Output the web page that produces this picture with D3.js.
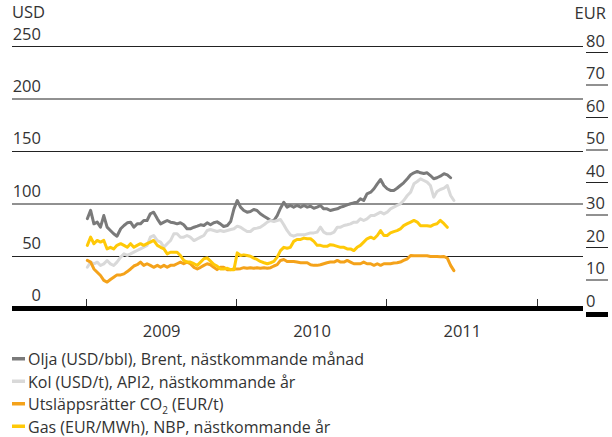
<!DOCTYPE html>
<html>
<head>
<meta charset="utf-8">
<script src="https://cdn.jsdelivr.net/npm/d3@7"></script>
<style>
  html, body { margin: 0; padding: 0; background: #fff; }
  svg { display: block; }
  text { font-family: "Open Sans", "Noto Sans", sans-serif; fill: #333; }
</style>
</head>
<body>
<script>
// ---- DATA ----
const startDate = "2009-01-01";
// days since startDate for each observation
const dayOffsets = [2,10,18,26,34,42,50,58,66,74,83,91,99,107,115,123,131,139,147,155,163,172,180,188,196,204,212,220,228,236,244,252,261,269,277,285,293,301,309,317,325,333,342,350,358,366,374,382,390,398,406,414,422,431,439,447,455,463,471,479,487,495,503,511,520,528,536,544,552,560,568,576,584,592,601,609,617,625,633,641,649,657,665,673,681,690,698,706,714,722,730,738,746,754,762,770,779,787,795,803,811,819,827,835,843,851,859,868,876,884,892];

// Olja (USD/bbl)
const oil = [86,94,81.1,82.7,77.9,89,78,74.8,71.6,69.3,
  76.4,79.5,82.1,82.7,77.9,81.1,81.1,84.3,84.3,90.7,
  92.2,85.9,81.1,82.7,84.3,82.7,82.1,81.1,82.1,80.2,
  76.4,76.4,77.9,78.9,80.2,79.5,82.1,80.2,82.1,83.0,
  81.1,78.6,79.5,83.3,95.4,103.3,97.0,93.8,92.2,92.9,
  94.8,93.8,90.7,88.4,86.5,84.3,84.3,89.0,96.0,101.7,
  97.0,98.6,97.0,98.6,97.0,98.6,97.0,97.9,96.0,97.0,
  98.6,95.4,95.4,93.8,94.8,95.4,97.0,97.9,99.2,100.2,
  101.1,101.7,105.0,103.3,109.7,111.2,114.5,119.2,123.3,117.6,
  114.5,112.9,112.9,115.0,117.6,120.2,124.0,127.8,129.7,131.0,
  129.7,129.0,129.7,127.1,124.0,125.0,126.5,128.8,127.8,125.0];

// Kol (USD/t)
const coal = [39.8,44.6,43.0,44.6,41.4,43.0,46.2,43.0,41.4,44.6,
  49.4,52.5,51.0,52.5,54.1,55.7,57.3,58.9,60.5,68.4,
  70.0,65.2,63.7,58.9,62.1,65.2,71.6,71.6,68.4,68.4,
  70.0,68.4,65.2,66.8,68.4,70.0,74.8,75.7,74.8,73.8,
  74.8,73.8,74.8,75.7,76.4,78.9,77.9,75.7,73.8,73.8,
  76.4,77.0,77.9,80.2,82.7,84.3,83.3,84.3,85.2,80.2,
  74.8,70.6,69.4,70.6,70.6,70.6,71.6,72.5,72.5,73.2,
  77.9,73.2,71.6,71.6,73.2,77.9,77.9,79.5,80.2,81.1,
  82.7,82.7,85.9,84.3,85.9,89.0,89.0,90.6,92.2,90.6,
  92.2,95.4,97.0,98.6,100.2,103.3,108.1,111.3,119.2,121.4,
  124.0,122.4,120.8,117.6,106.5,111.9,113.8,115.1,117.6,108.1,
  103.3];

// Utsläppsrätter CO2 (EUR/t)
const co2 = [14.8,14.3,12.2,11.2,10.2,8.7,8.2,9.0,9.7,10.4,
  10.4,10.7,11.4,12.2,13.1,13.5,14.3,13.3,13.8,13.3,
  12.7,13.3,12.7,13.3,12.7,13.3,13.3,13.8,14.3,13.8,
  14.3,13.8,12.7,12.2,12.7,13.3,13.8,13.5,12.7,12.0,
  12.7,12.7,12.0,12.0,12.2,12.2,12.3,12.6,12.4,12.6,
  12.4,12.6,12.4,12.6,12.4,12.6,13.1,13.5,14.8,15.1,
  14.5,14.5,14.5,14.3,14.1,14.1,14.1,13.5,13.3,13.3,
  13.5,13.8,14.1,14.3,14.3,14.8,14.3,14.3,14.8,14.3,
  13.8,13.8,13.8,14.3,13.8,13.8,13.3,13.8,13.3,13.8,
  13.8,13.8,14.0,14.1,14.3,14.8,15.3,16.3,16.2,16.2,
  16.2,16.2,16.2,16.0,16.0,16.0,15.9,16.0,15.5,13.3,
  11.7];

// Gas (EUR/MWh)
const gas = [19.4,21.9,19.9,20.9,20.4,20.9,18.3,18.8,18.3,19.4,
  19.9,19.4,18.8,19.9,18.8,19.4,19.9,19.4,19.9,20.4,
  20.9,19.4,18.8,18.3,16.8,17.3,17.3,17.3,16.3,14.8,
  14.3,14.3,13.8,13.3,14.3,15.3,15.6,14.6,13.6,13.1,
  12.2,12.2,12.4,12.0,12.0,17.1,16.3,16.5,16.3,16.1,
  15.5,15.1,14.5,14.1,13.8,14.1,14.5,15.8,17.8,18.8,
  18.5,18.8,20.6,21.2,21.2,21.6,21.4,21.4,20.6,19.4,
  19.4,19.1,19.1,19.6,19.4,19.1,18.8,18.8,18.3,18.3,
  17.8,18.8,19.4,20.4,21.4,21.9,21.4,22.4,23.9,22.4,
  22.4,23.2,23.6,23.9,24.4,25.4,26.0,26.5,27.0,26.5,
  25.4,25.4,25.4,25.2,25.7,26.0,27.0,26.0,24.9];

const usdTicks = [0, 50, 100, 150, 200, 250];
const eurTicks = [0, 10, 20, 30, 40, 50, 60, 70, 80];
const yearLabels = ["2009", "2010", "2011"];
const yearTicks = ["2009-01-01", "2010-01-01", "2011-01-01", "2012-01-01"];
const usdUnit = "USD";
const eurUnit = "EUR";

const seriesList = [
  { name: "oil",  values: oil,  axis: "usd", color: "#7a7a7a" },
  { name: "coal", values: coal, axis: "usd", color: "#d9d9d9" },
  { name: "co2",  values: co2,  axis: "eur", color: "#f4a21a" },
  { name: "gas",  values: gas,  axis: "eur", color: "#ffc907" }
];

const legendItems = [
  { parts: [["Olja (USD/bbl), Brent, nästkommande månad", false]], color: "#7a7a7a" },
  { parts: [["Kol (USD/t), API2, nästkommande år", false]], color: "#d9d9d9" },
  { parts: [["Utsläppsrätter CO", false], ["2", true], [" (EUR/t)", false]], color: "#f4a21a" },
  { parts: [["Gas (EUR/MWh), NBP, nästkommande år", false]], color: "#ffc907" }
];

// ---- CHART ----
const W = 612, H = 437;
const svg = d3.select("body").append("svg").attr("width", W).attr("height", H);

const parse = d3.utcParse("%Y-%m-%d");
const start = parse(startDate);
const dates = dayOffsets.map(d => d3.utcDay.offset(start, d));

const x = d3.scaleUtc()
  .domain([parse("2009-01-01"), parse("2012-01-01")])
  .range([86.5, 537.5]);
const yU = d3.scaleLinear().domain([0, 250]).range([309, 46.5]);
const yE = d3.scaleLinear().domain([0, 80]).range([309, 46.5]);
const yEaxis = d3.scaleLinear().domain([0, 80]).range([312.5, 52.5]);

const gridLeft = 12, gridRight = 583;
const axisFont = 16.5;

// gridlines + left labels
usdTicks.forEach(v => {
  if (v > 0) {
    svg.append("line")
      .attr("x1", gridLeft).attr("x2", gridRight)
      .attr("y1", yU(v)).attr("y2", yU(v))
      .attr("stroke", "#222").attr("stroke-width", 1);
  }
  svg.append("text")
    .attr("x", 41).attr("y", yU(v) - (v === 0 ? 8.5 : (v === 250 ? 6.5 : 7.5)))
    .attr("text-anchor", "end")
    .attr("font-size", axisFont)
    .text(v);
});

// baseline
svg.append("line")
  .attr("x1", gridLeft).attr("x2", gridRight)
  .attr("y1", yU(0) - 0.5).attr("y2", yU(0) - 0.5)
  .attr("stroke", "#000").attr("stroke-width", 5);

// unit labels
svg.append("text").attr("x", 12).attr("y", 17.5).attr("font-size", axisFont).text(usdUnit);
svg.append("text").attr("x", 606).attr("y", 19).attr("font-size", axisFont)
  .attr("text-anchor", "end").text(eurUnit);

// right axis
eurTicks.forEach(v => {
  const yy = yEaxis(v);
  if (v === 0) {
    svg.append("rect").attr("x", 586).attr("y", yy - 0.5).attr("width", 22).attr("height", 5).attr("fill", "#000");
  } else {
    svg.append("line").attr("x1", 586).attr("x2", 608).attr("y1", yy).attr("y2", yy)
      .attr("stroke", "#222").attr("stroke-width", 1);
  }
  svg.append("text").attr("x", 586).attr("y", yy - 5.8)
    .attr("font-size", axisFont).text(v);
});

// x ticks
yearTicks.forEach(t => {
  const xx = Math.round(x(parse(t))) - 0.5;
  svg.append("line").attr("x1", xx).attr("x2", xx).attr("y1", 299).attr("y2", 306)
    .attr("stroke", "#333").attr("stroke-width", 1);
});
yearLabels.forEach((lab, i) => {
  const a = x(parse(yearTicks[i])), b = x(parse(yearTicks[i + 1]));
  svg.append("text").attr("x", (a + b) / 2).attr("y", 336.7)
    .attr("text-anchor", "middle").attr("font-size", axisFont).text(lab);
});

// series lines
seriesList.forEach(s => {
  const ys = s.axis === "usd" ? yU : yE;
  const pts = s.values.map((v, i) => [dates[i], v]);
  const line = d3.line().x(d => x(d[0])).y(d => ys(d[1]));
  svg.append("path").datum(pts)
    .attr("d", line)
    .attr("fill", "none")
    .attr("stroke", s.color)
    .attr("stroke-width", 3)
    .attr("stroke-linejoin", "round")
    .attr("stroke-linecap", "round");
});

// legend
const legendTop = 365, legendStep = 22.5;
legendItems.forEach((it, i) => {
  const by = legendTop + i * legendStep;
  svg.append("rect").attr("x", 12).attr("y", by - 8).attr("width", 13).attr("height", 3.5).attr("fill", it.color);
  const t = svg.append("text").attr("x", 28).attr("y", by).attr("font-size", 16);
  it.parts.forEach(([txt, sub]) => {
    if (sub) {
      t.append("tspan").attr("font-size", 10).attr("dy", 4).text(txt);
    } else {
      const ts = t.append("tspan").text(txt);
      if (t.selectAll("tspan").size() > 1) ts.attr("dy", -4);
    }
  });
});
</script>
</body>
</html>
